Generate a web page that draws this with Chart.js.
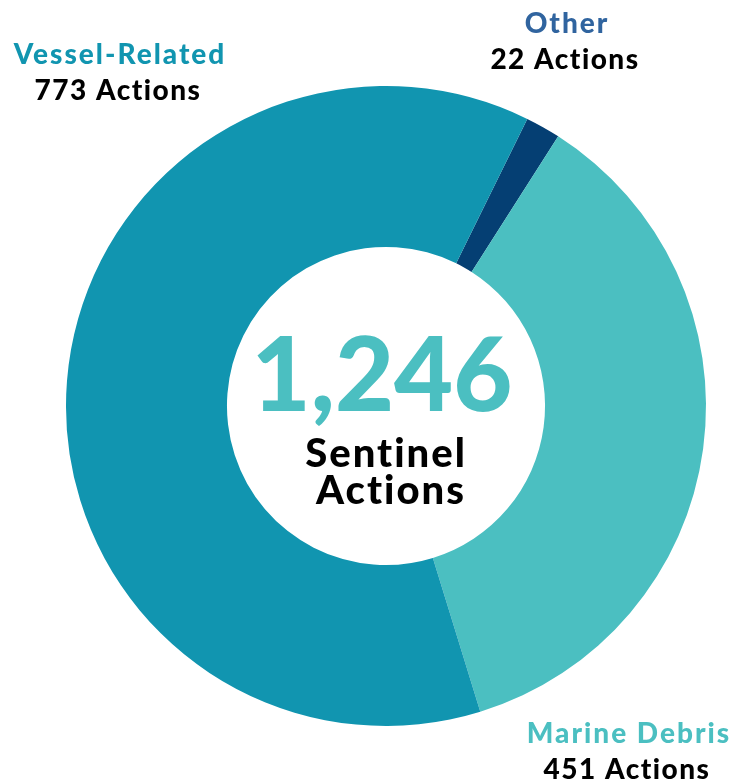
<!DOCTYPE html>
<html>
<head>
<meta charset="utf-8">
<script src="https://cdn.jsdelivr.net/npm/chart.js@4"></script>
<style>
  html, body { margin: 0; padding: 0; background: #fff; }
  #wrap { width: 746px; height: 783px; position: relative; }
</style>
</head>
<body>
<div id="wrap"><canvas id="chart"></canvas></div>
<script>
const categories = ['Other', 'Marine Debris', 'Vessel-Related'];
const actions = [22, 451, 773];
const sliceColors = ['#053f73', '#4bbfc1', '#1195b0'];
const labelColors = ['#30649f', '#4bbfc1', '#1195b0'];
const totalLabel = '1,246';
const centerLines = ['Sentinel', 'Actions'];

// where each category's caption sits (x center, name baseline)
const captionSpots = [
  { x: 567, y: 33 },
  { x: 629, y: 743 },
  { x: 120, y: 64 }
];

const FONT = 'Lato, "Open Sans", sans-serif';

const textPlugin = {
  id: 'texts',
  afterDraw(chart) {
    const ctx = chart.ctx;
    const arc = chart.getDatasetMeta(0).data[0];
    const cx = arc.x, cy = arc.y;
    ctx.save();
    ctx.textAlign = 'center';
    ctx.textBaseline = 'alphabetic';

    ctx.fillStyle = '#4bbfc1';
    ctx.font = `900 102px ${FONT}`;
    ctx.letterSpacing = '0px';
    ctx.fillText(totalLabel, cx - 4, cy + 5);

    ctx.fillStyle = '#000';
    ctx.font = `900 40px ${FONT}`;
    ctx.letterSpacing = '2px';
    ctx.fillText(centerLines[0], cx, cy + 61);
    ctx.fillText(centerLines[1], cx + 5, cy + 98);

    categories.forEach((c, i) => {
      const s = captionSpots[i];
      ctx.fillStyle = labelColors[i];
      ctx.font = `900 28px ${FONT}`;
      ctx.letterSpacing = '2px';
      ctx.fillText(c, s.x, s.y);
      ctx.fillStyle = '#000';
      ctx.letterSpacing = '1.5px';
      ctx.fillText(`${actions[i]} Actions`, s.x - 2, s.y + 36);
    });
    ctx.restore();
  }
};

new Chart(document.getElementById('chart'), {
  type: 'doughnut',
  data: {
    labels: categories,
    datasets: [{
      data: actions,
      backgroundColor: sliceColors,
      borderWidth: 0
    }]
  },
  options: {
    responsive: true,
    maintainAspectRatio: false,
    animation: false,
    rotation: 26.2,
    cutout: '49.7%',
    layout: { padding: { left: 66, right: 40, top: 85, bottom: 56 } },
    plugins: {
      legend: { display: false },
      tooltip: { enabled: false }
    }
  },
  plugins: [textPlugin]
});
</script>
</body>
</html>
